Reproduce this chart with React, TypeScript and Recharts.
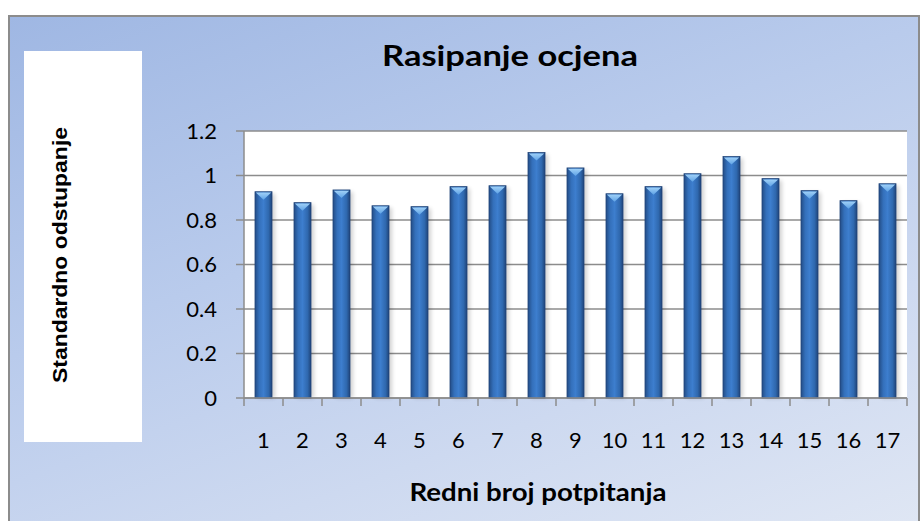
import { BarChart, Bar, XAxis, YAxis, CartesianGrid } from "recharts";

const questions = ["1", "2", "3", "4", "5", "6", "7", "8", "9", "10", "11", "12", "13", "14", "15", "16", "17"];
const stdDev = [0.927, 0.878, 0.935, 0.864, 0.86, 0.95, 0.954, 1.103, 1.034, 0.918, 0.95, 1.008, 1.085, 0.986, 0.932, 0.887, 0.963];
const yTicks = [0, 0.2, 0.4, 0.6, 0.8, 1, 1.2];

const data = questions.map((q, i) => ({ q, value: stdDev[i] }));

const GRID = "#8c8c8c";
const TICK_FONT = "Lato, 'Open Sans', sans-serif";

// bar with a light bevel on top, like the Excel 2007 style
const BevelBar = (props: any) => {
  const { x, y, width, height } = props;
  if (!height || height <= 0) return null;
  const b = Math.min(8, height);
  return (
    <g>
      <rect x={x + 3} y={y + 2} width={width} height={height - 2} fill="#000" opacity={0.18} filter="url(#barShadow)" />
      <rect x={x} y={y} width={width} height={height} fill="url(#barFill)" stroke="#21457a" strokeWidth={0.8} />
      <polygon
        points={`${x + 0.8},${y + 0.8} ${x + width - 0.8},${y + 0.8} ${x + width / 2},${y + b}`}
        fill="url(#bevelFill)"
      />
    </g>
  );
};

const XTick = (props: any) => {
  const { x, y, payload, index, visibleTicksCount, width } = props;
  const half = width && visibleTicksCount ? width / visibleTicksCount / 2 : 19.5;
  const last = index === visibleTicksCount - 1;
  return (
    <g>
      <line x1={x - half} x2={x - half} y1={y} y2={y + 8} stroke={GRID} strokeWidth={1.5} />
      {last && <line x1={x + half} x2={x + half} y1={y} y2={y + 8} stroke={GRID} strokeWidth={1.5} />}
      <text x={x} y={y + 50} textAnchor="middle" fontFamily={TICK_FONT} fontSize={22} fill="#000">
        {payload.value}
      </text>
    </g>
  );
};

export default function App() {
  return (
    <div style={{ position: "absolute", left: 0, top: 0, width: 920, height: 521, overflow: "hidden", background: "#fff" }}>
      {/* chart area frame */}
      <div
        style={{
          position: "absolute",
          left: 8,
          top: 15,
          width: 908,
          height: 520,
          border: "2px solid #8c8c8c",
          background: "linear-gradient(160deg, #9fb7e3 0%, #b9cbec 40%, #cdd9f0 70%, #e0e7f4 100%)",
        }}
      />
      {/* white box behind the y axis title */}
      <div style={{ position: "absolute", left: 24, top: 51, width: 118, height: 391, background: "#fff" }} />

      <div style={{ position: "absolute", left: 0, top: 0 }}>
        <BarChart width={920} height={521} data={data} margin={{ top: 131, right: 13, bottom: 63, left: 144 }}>
          <defs>
            <linearGradient id="barFill" x1="0" y1="0" x2="1" y2="0">
              <stop offset="0%" stopColor="#234d86" />
              <stop offset="25%" stopColor="#3470bb" />
              <stop offset="50%" stopColor="#3d7ece" />
              <stop offset="80%" stopColor="#2f68ae" />
              <stop offset="100%" stopColor="#1f4479" />
            </linearGradient>
            <linearGradient id="bevelFill" x1="0" y1="0" x2="0" y2="1">
              <stop offset="0%" stopColor="#9fd0f7" />
              <stop offset="100%" stopColor="#5fa3e6" />
            </linearGradient>
            <filter id="barShadow" x="-50%" y="-10%" width="200%" height="120%">
              <feGaussianBlur stdDeviation="2" />
            </filter>
          </defs>
          <CartesianGrid fill="#fff" vertical={false} stroke={GRID} strokeWidth={1.5} />
          <XAxis
            dataKey="q"
            height={60}
            tickLine={false}
            tickSize={0}
            tickMargin={0}
            axisLine={{ stroke: GRID, strokeWidth: 1.5 }}
            tick={<XTick />}
            interval={0}
          />
          <YAxis
            width={100}
            domain={[0, 1.2]}
            ticks={yTicks}
            interval={0}
            tickSize={8}
            tickMargin={19}
            axisLine={{ stroke: GRID, strokeWidth: 1.5 }}
            tickLine={{ stroke: GRID, strokeWidth: 1.5 }}
            tick={{ fill: "#000", fontSize: 22, fontFamily: TICK_FONT }}
            tickFormatter={(v) => String(v)}
          />
          <Bar dataKey="value" barSize={17} shape={<BevelBar />} isAnimationActive={false} />
        </BarChart>
      </div>

      {/* titles */}
      <svg width={920} height={521} style={{ position: "absolute", left: 0, top: 0, pointerEvents: "none" }}>
        <text
          x={510}
          y={66}
          textAnchor="middle"
          fontFamily="Lato, sans-serif"
          fontWeight="bold"
          fontSize={29}
          textLength={256}
          lengthAdjust="spacingAndGlyphs"
          fill="#000"
        >
          Rasipanje ocjena
        </text>
        <text
          x={538}
          y={501}
          textAnchor="middle"
          fontFamily="Lato, sans-serif"
          fontWeight="bold"
          fontSize={24}
          textLength={257}
          lengthAdjust="spacingAndGlyphs"
          fill="#000"
        >
          Redni broj potpitanja
        </text>
        <text
          transform="translate(67, 255) rotate(-90)"
          textAnchor="middle"
          fontFamily="'Liberation Sans', Arial, sans-serif"
          fontWeight="bold"
          fontSize={20}
          textLength={256}
          lengthAdjust="spacingAndGlyphs"
          fill="#000"
        >
          Standardno odstupanje
        </text>
      </svg>
    </div>
  );
}
